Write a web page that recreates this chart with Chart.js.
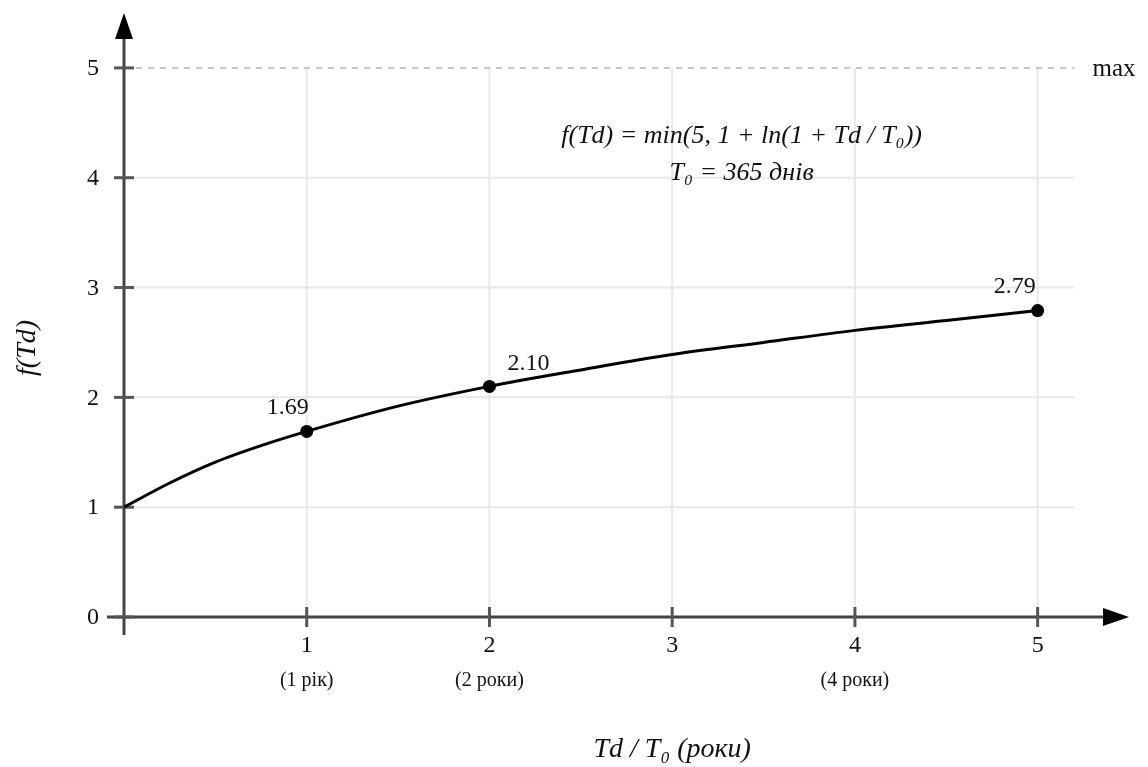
<!DOCTYPE html>
<html>
<head>
<meta charset="utf-8">
<script src="https://cdn.jsdelivr.net/npm/chart.js@4"></script>
<style>
  body { margin: 0; background: #fff; }
  #wrap { width: 1148px; height: 767px; }
</style>
</head>
<body>
<div id="wrap"><canvas id="fChart" width="1148" height="767"></canvas></div>
<script>
// Values
const tdRatio = [0, 0.25, 0.5, 0.75, 1, 1.5, 2, 2.5, 3, 3.5, 4, 4.5, 5];
const fValues = [1.00, 1.22, 1.41, 1.56, 1.69, 1.92, 2.10, 2.25, 2.39, 2.50, 2.61, 2.70, 2.79];
const markedX = [1, 2, 5];
const markedLabels = ['1.69', '2.10', '2.79'];
const xTicks = [1, 2, 3, 4, 5];
const xSubLabels = ['(1 рік)', '(2 роки)', '', '(4 роки)', ''];
const yTicks = [0, 1, 2, 3, 4, 5];
const maxValue = 5;

const serif = '"Liberation Serif", "DejaVu Serif", serif';
const textColor = '#111';

// Custom axes with arrows, grid and labels
const axesPlugin = {
    id: 'axesPlugin',
    beforeDatasetsDraw(chart) {
        const ctx = chart.ctx;
        const xs = chart.scales.x, ys = chart.scales.y;
        const area = chart.chartArea;
        const x0 = xs.getPixelForValue(0), y0 = ys.getPixelForValue(0);
        const gridEndX = xs.getPixelForValue(5.2);
        ctx.save();

        // grid
        ctx.strokeStyle = '#e8e8e8';
        ctx.lineWidth = 2;
        yTicks.forEach(v => {
            if (v === 0 || v === maxValue) return;
            const y = ys.getPixelForValue(v);
            ctx.beginPath(); ctx.moveTo(x0, y); ctx.lineTo(gridEndX, y); ctx.stroke();
        });
        xTicks.forEach(v => {
            const x = xs.getPixelForValue(v);
            ctx.beginPath(); ctx.moveTo(x, y0); ctx.lineTo(x, ys.getPixelForValue(maxValue)); ctx.stroke();
        });

        // max dashed line
        ctx.strokeStyle = '#c4c4c4';
        ctx.setLineDash([6, 6]);
        const yMax = ys.getPixelForValue(maxValue);
        ctx.beginPath(); ctx.moveTo(x0, yMax); ctx.lineTo(gridEndX, yMax); ctx.stroke();
        ctx.setLineDash([]);

        // axes
        ctx.strokeStyle = '#444';
        ctx.lineWidth = 3;
        ctx.beginPath(); ctx.moveTo(x0 - 17, y0); ctx.lineTo(area.right - 20, y0); ctx.stroke();
        ctx.beginPath(); ctx.moveTo(x0, y0 + 18); ctx.lineTo(x0, area.top + 20); ctx.stroke();

        // arrows
        ctx.fillStyle = '#000';
        ctx.beginPath();
        ctx.moveTo(area.right, y0); ctx.lineTo(area.right - 26, y0 - 9); ctx.lineTo(area.right - 26, y0 + 9);
        ctx.closePath(); ctx.fill();
        ctx.beginPath();
        ctx.moveTo(x0, area.top); ctx.lineTo(x0 - 9, area.top + 26); ctx.lineTo(x0 + 9, area.top + 26);
        ctx.closePath(); ctx.fill();

        // tick marks
        ctx.strokeStyle = '#555';
        ctx.lineWidth = 3;
        yTicks.forEach(v => {
            const y = ys.getPixelForValue(v);
            ctx.beginPath(); ctx.moveTo(x0 - 10, y); ctx.lineTo(x0 + 10, y); ctx.stroke();
        });
        xTicks.forEach(v => {
            const x = xs.getPixelForValue(v);
            ctx.beginPath(); ctx.moveTo(x, y0 - 10); ctx.lineTo(x, y0 + 10); ctx.stroke();
        });
        ctx.restore();
    },
    afterDraw(chart) {
        const ctx = chart.ctx;
        const xs = chart.scales.x, ys = chart.scales.y;
        const x0 = xs.getPixelForValue(0), y0 = ys.getPixelForValue(0);
        ctx.save();
        ctx.fillStyle = textColor;
        ctx.textBaseline = 'middle';

        // y tick labels
        ctx.font = '24px ' + serif;
        ctx.textAlign = 'right';
        yTicks.forEach(v => ctx.fillText(String(v), x0 - 25, ys.getPixelForValue(v) + 1));

        // x tick labels
        ctx.textAlign = 'center';
        xTicks.forEach((v, i) => {
            const x = xs.getPixelForValue(v);
            ctx.font = '24px ' + serif;
            ctx.fillText(String(v), x, y0 + 29);
            if (xSubLabels[i]) {
                ctx.font = '20px ' + serif;
                ctx.fillText(xSubLabels[i], x, y0 + 64);
            }
        });

        // max label
        ctx.font = '25px ' + serif;
        ctx.textAlign = 'left';
        ctx.fillText('max', xs.getPixelForValue(5.3), ys.getPixelForValue(maxValue) + 2);

        // formula
        ctx.font = 'italic 26px ' + serif;
        ctx.textAlign = 'center';
        ctx.fillText('f(Td) = min(5, 1 + ln(1 + Td / T₀))', xs.getPixelForValue(3.38), ys.getPixelForValue(4.38));
        ctx.fillText('T₀ = 365 днів', xs.getPixelForValue(3.38), ys.getPixelForValue(4.04));

        // axis titles
        ctx.font = 'italic 28px ' + serif;
        ctx.fillText('Td / T₀ (роки)', xs.getPixelForValue(3), y0 + 133);
        ctx.save();
        ctx.translate(28, ys.getPixelForValue(2.45));
        ctx.rotate(-Math.PI / 2);
        ctx.fillText('f(Td)', 0, 0);
        ctx.restore();

        // point value labels
        const meta = chart.getDatasetMeta(0);
        ctx.font = '24px ' + serif;
        markedX.forEach((mx, i) => {
            const idx = tdRatio.indexOf(mx);
            const pt = meta.data[idx];
            if (i === 1) {
                ctx.textAlign = 'left';
                ctx.fillText(markedLabels[i], pt.x + 18, pt.y - 23);
            } else {
                ctx.textAlign = 'right';
                ctx.fillText(markedLabels[i], pt.x + (i === 0 ? 2 : -2), pt.y - 24);
            }
        });
        ctx.restore();
    }
};

const ctx = document.getElementById('fChart').getContext('2d');
const fChart = new Chart(ctx, {
    type: 'scatter',
    data: {
        datasets: [{
            data: tdRatio.map((x, i) => ({ x: x, y: fValues[i] })),
            showLine: true,
            borderColor: '#000',
            borderWidth: 3,
            cubicInterpolationMode: 'monotone',
            pointRadius: tdRatio.map(x => markedX.includes(x) ? 6.5 : 0),
            pointBackgroundColor: '#000',
            pointBorderWidth: 0
        }]
    },
    options: {
        responsive: false,
        animation: false,
        layout: { padding: { top: 13, right: 19, left: 0, bottom: 0 } },
        plugins: { legend: { display: false }, tooltip: { enabled: false } },
        scales: {
            x: {
                type: 'linear', min: 0, max: 5.5,
                grid: { display: false }, border: { display: false },
                ticks: { display: false },
                afterFit: s => { s.height = 150; }
            },
            y: {
                type: 'linear', min: 0, max: 5.5,
                grid: { display: false }, border: { display: false },
                ticks: { display: false },
                afterFit: s => { s.width = 124; }
            }
        }
    },
    plugins: [axesPlugin]
});
</script>
</body>
</html>
